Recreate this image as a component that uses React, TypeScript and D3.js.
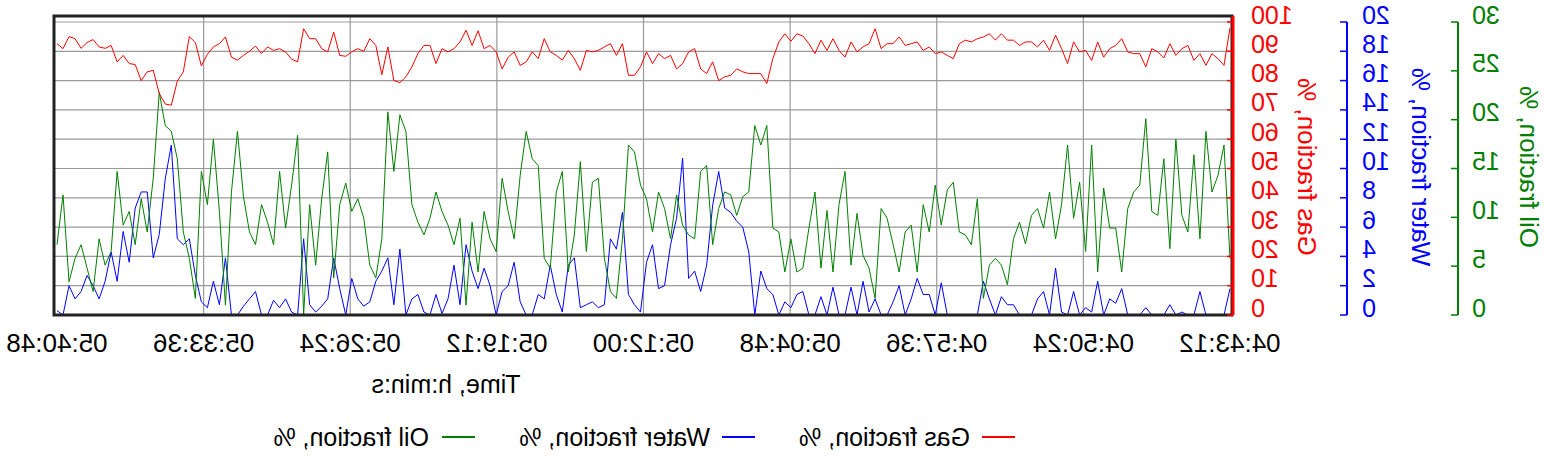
import React from 'react';
import * as d3 from 'd3';

// time window, seconds since midnight (04:43:12 .. 05:40:48)
const T_START = 4 * 3600 + 43 * 60 + 12;
const T_END = 5 * 3600 + 40 * 60 + 48;
const TICK_STEP = 432; // 7:12

// readings, listed from 05:40:48 going back to 04:43:12
const gasFraction = [
  92.6, 90.9, 95, 94.3, 91, 93, 94, 91.5, 91, 92, 86.4, 88.6, 85.8, 85.5, 80, 83, 83.5, 75.6, 72, 71.6, 79.8, 83, 95, 93, 85, 89,
  91.5, 92.6, 94.9, 88, 87, 88.6, 90, 91.8, 89.2, 91.5, 90.3, 90.9, 89.8, 87.3, 86.4, 97.7, 94.3, 94.3, 90.9, 89.8, 96.6, 88.6, 88.3, 89.8, 90.9,
  90, 94.3, 92, 82, 91.5, 80, 79.3, 81.3, 84.7, 89.2, 92, 92, 85.8, 90.9, 89.8, 90.9, 93.2, 97.2, 92, 97, 90.9, 92, 89.8, 84, 88,
  89.8, 85.2, 86.4, 89.8, 87.5, 94.3, 89.8, 88.6, 87, 90.3, 87.5, 83.5, 90.3, 89.8, 90.3, 91.5, 92.6, 88.6, 92.6, 81.8, 81.8, 84.7, 89.8, 85.8, 89.2,
  87.5, 88.6, 84, 85.8, 89.8, 90.9, 84, 82.4, 86.4, 80, 81.3, 81.8, 84, 83, 82.4, 82.4, 82.4, 79, 87.5, 93.2, 96, 93.4, 96, 95.2, 92.6,
  89.2, 93.8, 90.3, 94.3, 90.3, 88, 93.2, 89.8, 91.5, 92.6, 97.7, 90.9, 92.6, 92.6, 94.9, 92, 92.6, 93.2, 90.3, 91.5, 89.2, 89.8, 88.6, 87.5, 92.6,
  93.8, 93.2, 94.3, 94.9, 96, 93.8, 96, 93.8, 93.8, 92, 93.2, 93.2, 91.5, 93.8, 90.3, 95.5, 90.9, 85.8, 93.2, 89.8, 90.3, 86.9, 93.2, 88, 90.9,
  92, 94.3, 89.8, 89.2, 89.2, 84.7, 90.9, 89.8, 87.7, 92.6, 88.6, 90.9, 92, 86.9, 89.2, 85.2, 89.2, 87.5, 85.2, 98,
];

const waterFraction = [
  0.3, 0, 2.0, 1.1, 1.6, 2.7, 2.0, 1.1, 2.3, 4.3, 2.3, 5.7, 3.6, 7.3, 8.4, 8.4, 3.9, 5.5, 9.3, 11.6, 5.2, 4.8, 5.2, 2.7, 0.9, 0.5,
  2.3, 0.7, 3.9, 0, 0, 0.6, 1.1, 1.6, 0, 0, 1, 0.5, 1.1, 0.2, 0, 5.2, 0.7, 0.2, 0.6, 1.1, 3.9, 1.8, 0, 2.5, 1.1,
  0.6, 0.9, 2.3, 3, 3.9, 0.7, 4.5, 0, 1.1, 1.4, 0.2, 0, 1.4, 0.1, 1.1, 3.4, 0.7, 4.8, 3, 1.8, 3.2, 2, 0, 1.6, 2,
  3.6, 0.9, 0, 0, 1.4, 1.1, 3.4, 1.4, 0.2, 3.4, 3.9, 0.5, 0.7, 0.9, 0.5, 0.7, 5.2, 4.5, 7, 1.4, 0.7, 0.2, 3.6, 4.8, 1.8,
  2, 4.8, 6.6, 10.7, 2.5, 3, 1.6, 3.4, 7.5, 9.8, 7.3, 7, 6.4, 6, 4.3, 0, 3, 1.8, 1.4, 0, 0.9, 0.5, 1.4, 1.6, 0,
  0, 1.25, 0, 1.9, 0, 0, 1.9, 0, 2.3, 0.2, 1.1, 0, 0, 0.9, 2, 0, 1.1, 2.5, 1.4, 1.4, 0, 2.2, 0, 0, 0,
  0, 0, 0, 2.3, 1.1, 0, 1.25, 0.7, 0.7, 0, 0, 0, 1.1, 1.6, 0, 3.2, 0.2, 0, 1.6, 0, 0.5, 0.2, 2.3, 0, 1.1,
  0.8, 1.8, 0, 0, 0, 0.5, 0, 0, 0, 0.7, 0, 0.2, 0, 0, 1.6, 0, 0, 0, 0, 1.8,
];

const oilFraction = [
  7.2, 12.3, 3.4, 5.8, 7.2, 4.8, 2.4, 7.8, 5.1, 6.5, 14.7, 9.2, 10.6, 7.2, 11.9, 8.5, 14, 22.8, 19.4, 18.8, 16, 8.5, 5.8, 1.7, 14.7, 11.3,
  18, 10.6, 1.0, 12.6, 18.8, 12.1, 8.5, 7.2, 11.3, 9.5, 7.2, 14.7, 8.9, 13.3, 18.4, 0, 11.3, 5.1, 11.9, 16.7, 3.8, 11.3, 13.5, 10.6, 11.9,
  9.9, 5.1, 3.8, 7.8, 20.8, 14.7, 20.5, 18.8, 11.3, 9.5, 8.2, 9.9, 12.6, 10.6, 9.2, 7.2, 9.9, 1, 9.5, 4.4, 10.6, 7.8, 6.5, 14, 10.6,
  7.8, 14.3, 18.8, 16, 15.3, 5.8, 4.8, 12.6, 14.7, 4.4, 8.2, 15.7, 6.5, 13.6, 14, 5.8, 2.4, 1.7, 7.8, 17.4, 16.7, 13.3, 11.9, 8.5, 12.6,
  10.9, 7.8, 12.3, 9.2, 8.2, 7.8, 14.7, 15.3, 7.2, 10.9, 12.6, 12.3, 10.2, 12.1, 12.6, 19.4, 17.4, 19.4, 8.9, 8.5, 4.4, 7.8, 4.4, 4.8, 8.9,
  12.6, 4.8, 10.7, 4.4, 11.3, 14.7, 5.1, 10.4, 6.1, 4.8, 1.7, 10.9, 9.9, 7.2, 4.4, 8.5, 9.2, 4.4, 11.3, 8.5, 13.3, 9.2, 12.8, 13.6, 8.5,
  8.2, 7.2, 11.9, 1.7, 5.1, 5.8, 5.1, 3.1, 7.8, 9.5, 7.3, 10.2, 10.9, 8.9, 12.6, 7.8, 11.3, 17.4, 9.9, 13.6, 6.5, 17.4, 4.4, 13, 8.9,
  8.9, 4.4, 10.9, 12.6, 13.3, 20.1, 10.6, 10.2, 16, 6.8, 18, 10.2, 8.5, 16.4, 7.8, 18.8, 12.6, 14.3, 17.4, 5.8,
];

const gasTicks = d3.range(0, 101, 10);
const waterTicks = d3.range(0, 21, 2);
const oilTicks = d3.range(0, 31, 5);

const legendItems = [
  { label: 'Gas fraction, %', color: '#ff0000' },
  { label: 'Water fraction, %', color: '#0000ff' },
  { label: 'Oil fraction, %', color: '#008000' },
];

const W = 1544;
const H = 456;
const FONT = '"Liberation Sans", Arial, Helvetica, sans-serif';

const pad = (n: number) => String(n).padStart(2, '0');
const fmtTime = (t: number) =>
  `${pad(Math.floor(t / 3600))}:${pad(Math.floor((t % 3600) / 60))}:${pad(t % 60)}`;

export default function App() {
  const plot = { left: 312, right: 1490, top: 16, bottom: 315 };
  const n = gasFraction.length;
  const step = (T_END - T_START) / (n - 1);
  const times = gasFraction.map((_, i) => T_END - i * step);

  const x = d3.scaleLinear().domain([T_START, T_END]).range([314, 1487]);
  const yGas = d3.scaleLinear().domain([0, 100]).range([315, 22]);
  const yWater = d3.scaleLinear().domain([0, 20]).range([315, 22]);
  const yOil = d3.scaleLinear().domain([0, 30]).range([315, 22]);

  const mkLine = (y: d3.ScaleLinear<number, number>) =>
    d3.line<number>().x((_, i) => x(times[i])).y(d => y(d));

  const timeTicks = d3.range(T_START, T_END + 1, TICK_STEP);

  const gasAxisX = 311;
  const waterAxisX = 197;
  const oilAxisX = 86;
  const tickFont = 25;
  const labelDrop = 1.5;

  const legendPos = [
    { line: 529, text: 574 },
    { line: 789, text: 834 },
    { line: 1069, text: 1115 },
  ];

  return (
    <svg width={W} height={H} style={{ position: 'absolute', left: 0, top: 0, background: '#fff' }}
      fontFamily={FONT}>
      <g transform={`translate(${W},0) scale(-1,1)`}>
        {/* grid */}
        {gasTicks.filter(v => v > 0).map(v => (
          <line key={'hg' + v} x1={plot.left} x2={plot.right} y1={yGas(v)} y2={yGas(v)}
            stroke="#999" strokeWidth={1.2} />
        ))}
        {timeTicks.slice(1, -1).map(t => (
          <line key={'vg' + t} x1={x(t)} x2={x(t)} y1={plot.top} y2={plot.bottom}
            stroke="#999" strokeWidth={1.2} />
        ))}

        {/* series */}
        <path d={mkLine(yWater)(waterFraction) || ''} fill="none" stroke="#0000ff" strokeWidth={1} />
        <path d={mkLine(yOil)(oilFraction) || ''} fill="none" stroke="#008000" strokeWidth={1} />
        <path d={mkLine(yGas)(gasFraction) || ''} fill="none" stroke="#ff0000" strokeWidth={1} />

        {/* frame */}
        <rect x={plot.left} y={plot.top} width={plot.right - plot.left} height={plot.bottom - plot.top}
          fill="none" stroke="#222" strokeWidth={3} />

        {/* gas axis */}
        <line x1={gasAxisX} x2={gasAxisX} y1={plot.top} y2={plot.bottom} stroke="#ff0000" strokeWidth={3} />
        {gasTicks.map(v => (
          <g key={'ga' + v}>
            <line x1={gasAxisX} x2={gasAxisX + 6} y1={yGas(v)} y2={yGas(v)} stroke="#ff0000" strokeWidth={1.5} />
            <text x={gasAxisX - 18} y={yGas(v) + labelDrop} textAnchor="end" fontSize={tickFont} fill="#ff0000">{v}</text>
          </g>
        ))}
        <text transform={`translate(237,167) rotate(-90)`} textAnchor="middle" dominantBaseline="central"
          fontSize={26} fill="#ff0000">Gas fraction, %</text>

        {/* water axis */}
        <line x1={waterAxisX} x2={waterAxisX} y1={yWater(0)} y2={yWater(20)} stroke="#0000ff" strokeWidth={2} />
        {waterTicks.map(v => (
          <g key={'wa' + v}>
            <line x1={waterAxisX} x2={waterAxisX + 7} y1={yWater(v)} y2={yWater(v)} stroke="#0000ff" strokeWidth={1.5} />
            <text x={waterAxisX - 15} y={yWater(v) + labelDrop} textAnchor="end" fontSize={tickFont} fill="#0000ff">{v}</text>
          </g>
        ))}
        <text transform={`translate(123,167) rotate(-90)`} textAnchor="middle" dominantBaseline="central"
          fontSize={26} fill="#0000ff">Water fraction, %</text>

        {/* oil axis */}
        <line x1={oilAxisX} x2={oilAxisX} y1={yOil(0)} y2={yOil(30)} stroke="#008000" strokeWidth={2} />
        {oilTicks.map(v => (
          <g key={'oa' + v}>
            <line x1={oilAxisX} x2={oilAxisX + 7} y1={yOil(v)} y2={yOil(v)} stroke="#008000" strokeWidth={1.5} />
            <text x={oilAxisX - 14} y={yOil(v) + labelDrop} textAnchor="end" fontSize={tickFont} fill="#008000">{v}</text>
          </g>
        ))}
        <text transform={`translate(15,167) rotate(-90)`} textAnchor="middle" dominantBaseline="central"
          fontSize={26} fill="#008000">Oil fraction, %</text>

        {/* time axis */}
        {timeTicks.map(t => (
          <text key={'tl' + t} x={x(t)} y={352} textAnchor="middle" fontSize={26} fill="#000">{fmtTime(t)}</text>
        ))}
        <text x={1098} y={393} textAnchor="middle" fontSize={25} fill="#000">Time, h:min:s</text>

        {/* legend */}
        {legendItems.map((item, i) => (
          <g key={item.label}>
            <line x1={legendPos[i].line} x2={legendPos[i].line + 33} y1={437} y2={437} stroke={item.color} strokeWidth={2} />
            <text x={legendPos[i].text} y={446} fontSize={25} fill="#000">{item.label}</text>
          </g>
        ))}
      </g>
    </svg>
  );
}
